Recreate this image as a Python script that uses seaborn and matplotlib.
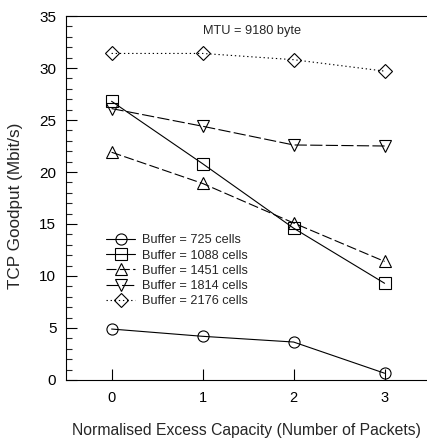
import matplotlib
matplotlib.use("Agg")
import matplotlib.pyplot as plt
from matplotlib.ticker import MultipleLocator
import seaborn as sns
import pandas as pd

# Excess capacity (normalised, in packets) on the x axis
capacity = [0, 1, 2, 3]

# TCP goodput (Mbit/s) for each switch buffer size
buffer_labels = ["Buffer = 725 cells", "Buffer = 1088 cells", "Buffer = 1451 cells",
                 "Buffer = 1814 cells", "Buffer = 2176 cells"]
goodput_725 = [4.9, 4.2, 3.65, 0.65]
goodput_1088 = [26.8, 20.8, 14.6, 9.3]
goodput_1451 = [21.9, 18.9, 15.1, 11.4]
goodput_1814 = [26.1, 24.4, 22.6, 22.5]
goodput_2176 = [31.4, 31.4, 30.8, 29.7]

series = [goodput_725, goodput_1088, goodput_1451, goodput_1814, goodput_2176]

rows = []
for label, vals in zip(buffer_labels, series):
    for x, y in zip(capacity, vals):
        rows.append({"capacity": x, "goodput": y, "buffer": label})
df = pd.DataFrame(rows)

sns.set_theme(style="ticks")
plt.rcParams["font.family"] = ["Liberation Sans", "DejaVu Sans"]

marker_map = dict(zip(buffer_labels, ["o", "s", "^", "v", "D"]))
size_map = dict(zip(buffer_labels, [8, 8, 8.5, 8.5, 7]))
dash_map = dict(zip(buffer_labels, [None, None, (9, 3), (11, 3), (1.2, 2.5)]))

fig = plt.figure(figsize=(4.275, 4.40), dpi=100)
ax = fig.add_axes([0.1546, 0.1364, 0.845, 0.8272])

for label in buffer_labels:
    sub = df[df["buffer"] == label]
    sns.lineplot(data=sub, x="capacity", y="goodput", ax=ax, color="black",
                 errorbar=None, linewidth=0.8, marker=marker_map[label],
                 markersize=size_map[label], markerfacecolor="none",
                 markeredgecolor="black", markeredgewidth=0.8, legend=False)
    line = ax.lines[-1]
    if dash_map[label] is not None:
        line.set_dashes(dash_map[label])

ax.set_xlim(-0.5, 3.47)
ax.set_ylim(0, 35)
ax.set_xticks(capacity)
ax.yaxis.set_major_locator(MultipleLocator(5))
ax.yaxis.set_minor_locator(MultipleLocator(1))
ax.tick_params(axis="both", which="major", direction="in", length=8, width=0.8,
               colors="black")
ax.tick_params(axis="y", which="minor", direction="in", length=4.5, width=0.8)
ax.tick_params(axis="x", which="major", pad=8, labelsize=10.5)
ax.tick_params(axis="y", which="major", pad=7, labelsize=11)

for side in ["left", "bottom", "top"]:
    ax.spines[side].set_linewidth(0.8)
    ax.spines[side].set_color("black")
ax.spines["right"].set_visible(False)

ax.set_xlabel("Normalised Excess Capacity (Number of Packets)", fontsize=11.3)
ax.set_ylabel("TCP Goodput (Mbit/s)", fontsize=12.3)
ax.xaxis.set_label_coords(0.5, -0.118)
ax.yaxis.set_label_coords(-0.119, 0.478)

ax.text(1.0, 33.6, "MTU = 9180 byte", fontsize=9.2, ha="left", va="center")

handles = ax.lines[:5]
ax.legend(handles, buffer_labels, loc="upper left", bbox_to_anchor=(0.111, 0.40),
          frameon=False, fontsize=9.2, handlelength=2.27, handletextpad=0.55,
          labelspacing=0.25, borderpad=0, borderaxespad=0)

fig.savefig("out.png", dpi=100)
